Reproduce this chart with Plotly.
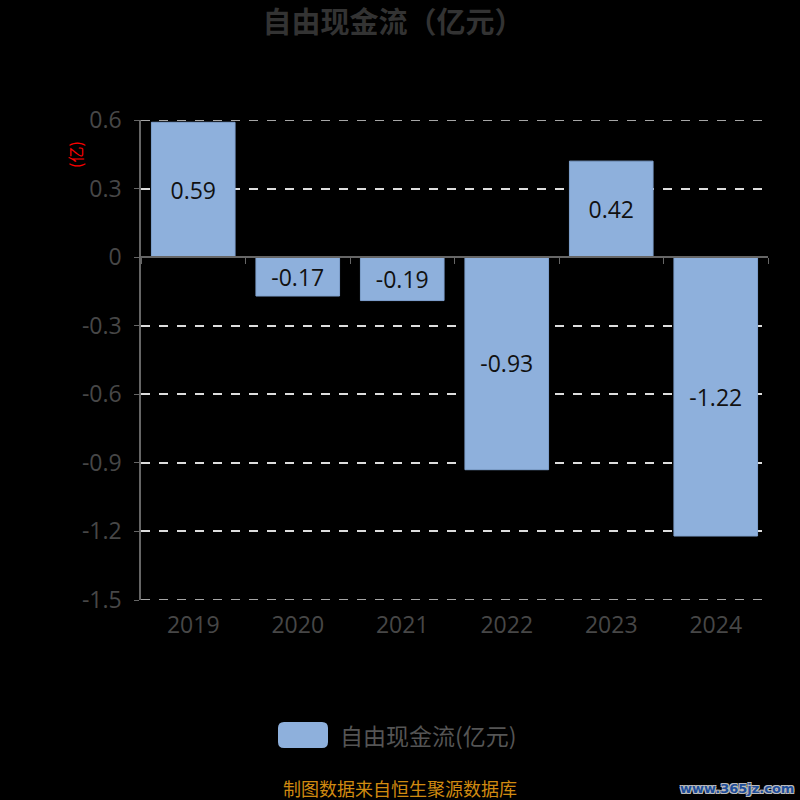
import plotly.graph_objects as go

years = ["2019", "2020", "2021", "2022", "2023", "2024"]
fcf = [0.59, -0.17, -0.19, -0.93, 0.42, -1.22]
y_ticks = [0.6, 0.3, 0, -0.3, -0.6, -0.9, -1.2, -1.5]
y_tick_text = ["0.6", "0.3", "0", "-0.3", "-0.6", "-0.9", "-1.2", "-1.5"]
series_name = "自由现金流(亿元)"

BAR = "#8eb0dc"
GRAY = "#474747"
FONT = "Noto Sans CJK SC"

# plot area in pixels
L, R, T, B = 141, 32, 120, 200
PW, PH = 800 - L - R, 800 - T - B


def px_x(x):
    return (x - L) / PW


def px_y(y):
    return (800 - B - y) / PH


fig = go.Figure()

fig.add_trace(go.Bar(
    x=years,
    y=fcf,
    name=series_name,
    marker=dict(color=BAR, line=dict(width=1, color="#80a2cf")),
    width=0.8,
    text=[f"{v:.2f}" for v in fcf],
    textposition="inside",
    insidetextanchor="middle",
    textfont=dict(color="#111111", size=23, family="Open Sans"),
    showlegend=False,
))

# zero line with boundary ticks (category axis sitting at y=0)
fig.add_trace(go.Scatter(
    x=years, y=[None] * len(years), xaxis="x2", showlegend=False, hoverinfo="skip",
))

lo, hi = y_ticks[-1], y_ticks[0]
zero_pos = (0 - lo) / (hi - lo)

# legend drawn by hand: rounded swatch + label
x0, x1, y0, y1 = px_x(278), px_x(328), px_y(748), px_y(722)
rx, ry = 6 / PW, 6 / PH
swatch = (
    f"M{x0 + rx},{y0} L{x1 - rx},{y0} Q{x1},{y0} {x1},{y0 + ry} "
    f"L{x1},{y1 - ry} Q{x1},{y1} {x1 - rx},{y1} "
    f"L{x0 + rx},{y1} Q{x0},{y1} {x0},{y1 - ry} "
    f"L{x0},{y0 + ry} Q{x0},{y0} {x0 + rx},{y0} Z"
)

grid_style = dict(color="#dddddd", width=1.5, dash="dash")
edge_grid = [
    dict(type="line", xref="paper", x0=0, x1=1, yref="y", y0=v, y1=v,
         line=grid_style, layer="below")
    for v in (y_ticks[0], y_ticks[-1])
]

fig.update_layout(
    width=800,
    height=800,
    paper_bgcolor="#000000",
    plot_bgcolor="#000000",
    font=dict(family=FONT, color=GRAY),
    title=dict(
        text="<b>自由现金流（亿元）</b>",
        x=393 / 800, xanchor="center", y=1 - 23 / 800, yanchor="middle",
        font=dict(size=29, color="#333333", family=FONT),
    ),
    margin=dict(l=L, r=R, t=T, b=B),
    bargap=0.2,
    showlegend=False,
    xaxis=dict(
        type="category",
        showline=False,
        showgrid=False,
        ticks="",
        tickfont=dict(size=23, color=GRAY, family="Open Sans"),
        ticklabelstandoff=9,
    ),
    xaxis2=dict(
        type="category",
        overlaying="x",
        matches="x",
        anchor="free",
        position=zero_pos,
        side="bottom",
        showline=True,
        linecolor="#666666",
        linewidth=1.5,
        ticks="outside",
        tickson="boundaries",
        ticklen=6,
        tickcolor="#666666",
        showticklabels=False,
        showgrid=False,
    ),
    yaxis=dict(
        range=[lo, hi],
        tickvals=y_ticks,
        ticktext=y_tick_text,
        tickfont=dict(size=23, color=GRAY, family="Open Sans"),
        ticklabelstandoff=8,
        showline=True,
        linecolor="#666666",
        linewidth=1.5,
        ticks="outside",
        ticklen=5,
        tickcolor="#666666",
        showgrid=True,
        gridcolor="#dddddd",
        griddash="dash",
        gridwidth=1.5,
        zeroline=False,
    ),
    shapes=edge_grid + [
        dict(type="path", path=swatch, xref="paper", yref="paper",
             fillcolor=BAR, line=dict(width=0)),
    ],
    annotations=[
        dict(
            text=series_name, x=px_x(338), y=px_y(735), xref="paper", yref="paper",
            xanchor="left", yanchor="middle", showarrow=False,
            font=dict(size=23, color="#555555", family=FONT),
        ),
        dict(
            text="(亿)", x=px_x(75), y=px_y(155), xref="paper", yref="paper",
            xanchor="center", yanchor="middle",
            showarrow=False, textangle=-90,
            font=dict(size=16, color="#ff0000", family=FONT),
        ),
        dict(
            text="制图数据来自恒生聚源数据库", x=px_x(400), y=px_y(788),
            xref="paper", yref="paper", xanchor="center", yanchor="middle",
            showarrow=False,
            font=dict(size=18, color="#d08a10", family=FONT),
        ),
        dict(
            text="<b>www.365jz.com</b>", x=px_x(796), y=px_y(788),
            xref="paper", yref="paper", xanchor="right", yanchor="middle",
            showarrow=False,
            font=dict(size=13, color="#1e4e9a", family="DejaVu Sans",
                      shadow="-1px -1px 0 #bbb, 1px 1px 0 #bbb, 1px -1px 0 #bbb, -1px 1px 0 #bbb"),
        ),
    ],
)

fig.write_html(
    "out.html",
    config={"displayModeBar": False},
    post_script="document.body.style.margin='0';document.body.style.background='#000';",
)
